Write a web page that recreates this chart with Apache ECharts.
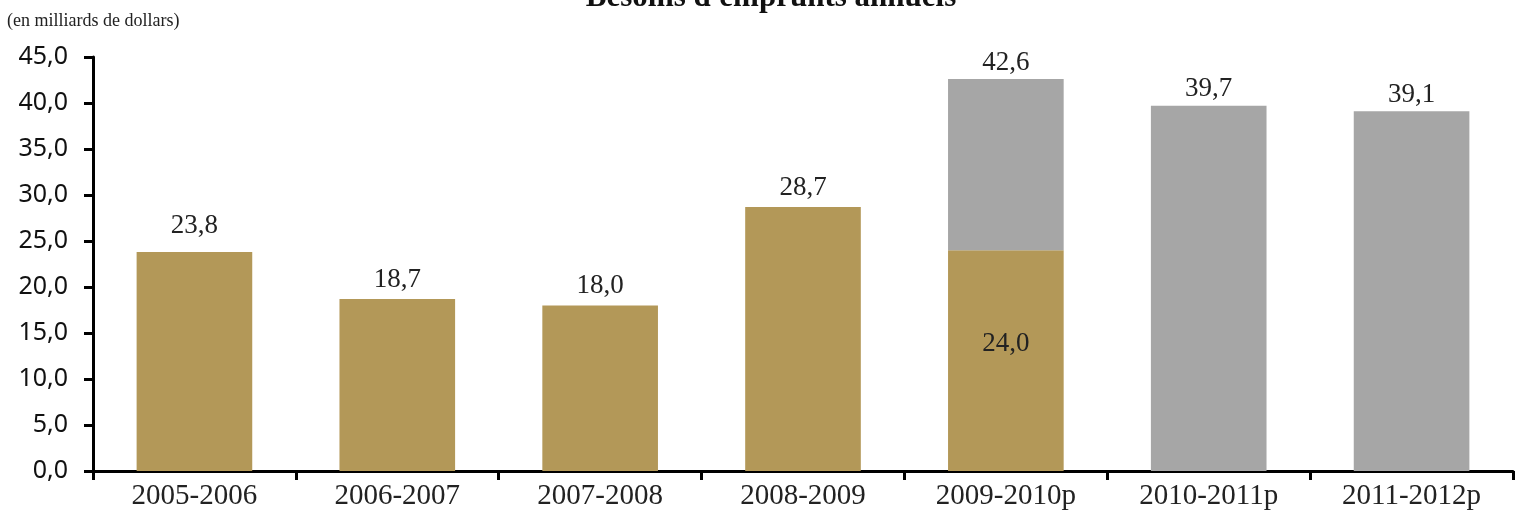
<!DOCTYPE html>
<html><head><meta charset="utf-8">
<script src="https://cdn.jsdelivr.net/npm/echarts@6/dist/echarts.min.js"></script>
<style>html,body{margin:0;padding:0;background:#fff}#c{width:1515px;height:531px}</style>
</head><body><div id="c"></div>
<script>
var categories = ['2005-2006','2006-2007','2007-2008','2008-2009','2009-2010p','2010-2011p','2011-2012p'];
var actualValues = [23.8, 18.7, 18.0, 28.7, 24.0, null, null];
var forecastValues = [null, null, null, null, 18.6, 39.7, 39.1];
var totalLabels = ['23,8','18,7','18,0','28,7','42,6','39,7','39,1'];
var yTicks = [0,5,10,15,20,25,30,35,40,45];

var serif = '"Liberation Serif", "DejaVu Serif", serif';
var sans = '"Noto Sans", "Liberation Sans", sans-serif';
function fmt(v){ return v.toFixed(1).replace('.', ','); }

var chart = echarts.init(document.getElementById('c'));
var goldData = actualValues.map(function(v, i){
  if (v === null) return null;
  if (forecastValues[i] !== null) {
    return {value: v, label: {show: true, position: 'inside', offset: [0, -17], formatter: fmt(v)}};
  }
  return {value: v, label: {show: true, position: 'top', distance: i === 0 ? 13 : 6, formatter: totalLabels[i]}};
});
var grayData = forecastValues.map(function(v, i){
  if (v === null) return null;
  return {value: v, label: {show: true, position: 'top', distance: 3, formatter: totalLabels[i]}};
});
chart.setOption({
  animation: false,
  title: {
    text: "Besoins d'emprunts annuels", left: 766, top: -23, textAlign: 'center',
    textStyle: {fontFamily: serif, fontWeight: 'bold', fontSize: 31, color: '#111'}
  },
  graphic: [{type: 'text', left: 7, top: 12, style: {text: '(en milliards de dollars)', font: '18px ' + serif, fill: '#222'}}],
  grid: {left: 93, right: 2, top: 57, bottom: 60, containLabel: false},
  xAxis: {
    type: 'category', data: categories,
    axisLine: {lineStyle: {color: '#000', width: 3}},
    axisTick: {show: true, length: 9, lineStyle: {color: '#000', width: 3}, alignWithLabel: false},
    axisLabel: {fontFamily: serif, fontSize: 29, color: '#222', margin: 11}
  },
  yAxis: {
    type: 'value', min: 0, max: 45, interval: 5,
    axisLine: {show: true, lineStyle: {color: '#000', width: 3}},
    axisTick: {show: true, length: 9, lineStyle: {color: '#000', width: 3}},
    splitLine: {show: false},
    axisLabel: {fontFamily: sans, fontSize: 25, color: '#111', margin: 25, formatter: function(v){ return fmt(v); }}
  },
  series: [
    {type: 'bar', name: 'actual', stack: 's', data: goldData, barCategoryGap: '43%',
     itemStyle: {color: '#B39858'},
     label: {fontFamily: serif, fontSize: 27, color: '#222'}},
    {type: 'bar', name: 'forecast', stack: 's', data: grayData, barCategoryGap: '43%',
     itemStyle: {color: '#A6A6A6'},
     label: {fontFamily: serif, fontSize: 27, color: '#222'}}
  ]
});
</script></body></html>
